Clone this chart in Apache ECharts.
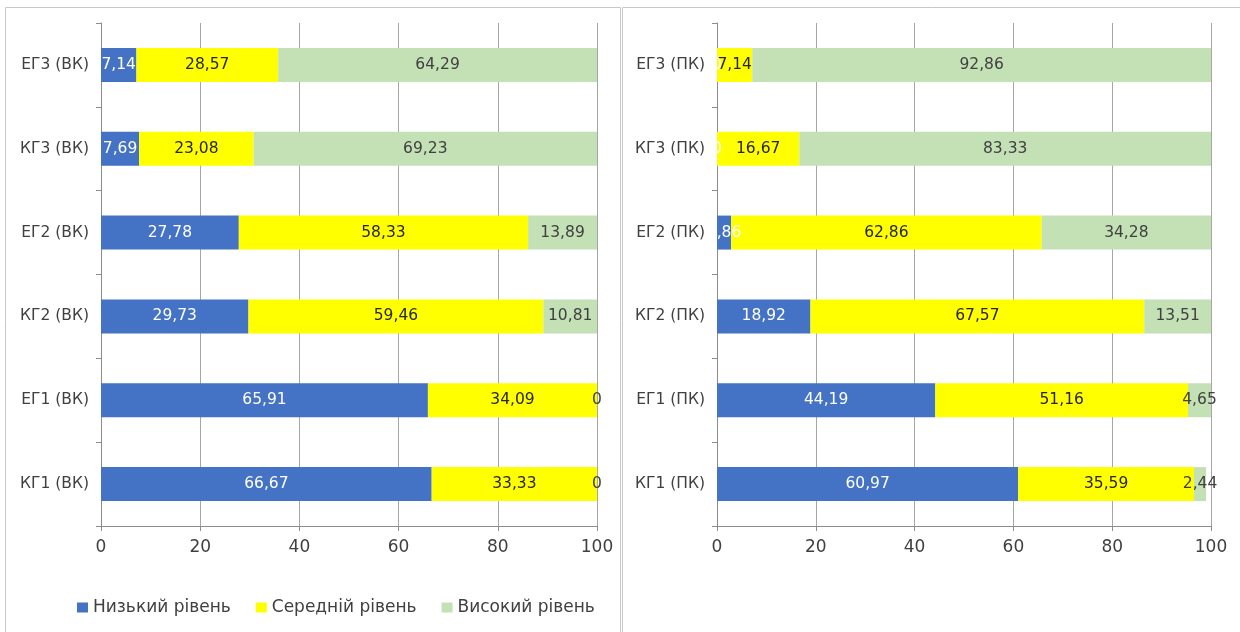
<!DOCTYPE html>
<html>
<head>
<meta charset="utf-8">
<script src="https://cdn.jsdelivr.net/npm/echarts@6/dist/echarts.min.js"></script>
<style>
html,body{margin:0;padding:0;background:#fff;}
#chart{width:1240px;height:632px;}
</style>
</head>
<body>
<div id="chart"></div>
<script>
// Categories, bottom to top
const catsVK = ['КГ1 (ВК)', 'ЕГ1 (ВК)', 'КГ2 (ВК)', 'ЕГ2 (ВК)', 'КГ3 (ВК)', 'ЕГ3 (ВК)'];
const catsPK = ['КГ1 (ПК)', 'ЕГ1 (ПК)', 'КГ2 (ПК)', 'ЕГ2 (ПК)', 'КГ3 (ПК)', 'ЕГ3 (ПК)'];

const seriesNames = ['Низький рівень', 'Середній рівень', 'Високий рівень'];

// ВК
const lowVK  = [66.67, 65.91, 29.73, 27.78, 7.69, 7.14];
const midVK  = [33.33, 34.09, 59.46, 58.33, 23.08, 28.57];
const highVK = [0, 0, 10.81, 13.89, 69.23, 64.29];

// ПК
const lowPK  = [60.97, 44.19, 18.92, 2.86, 0, 0];
const midPK  = [35.59, 51.16, 67.57, 62.86, 16.67, 7.14];
const highPK = [2.44, 4.65, 13.51, 34.28, 83.33, 92.86];

const xTicks = [0, 20, 40, 60, 80, 100];

const colors = ['#4472C4', '#FFFF00', '#C4E0B5'];
const labelColors = ['#ffffff', '#262626', '#404040'];
const fontFam = '"DejaVu Sans", "Open Sans", sans-serif';

function fmt(v) { return String(v).replace('.', ','); }

function xAxis(gi) {
  return {
    type: 'value', gridIndex: gi, min: xTicks[0], max: xTicks[xTicks.length - 1], interval: 20,
    axisLine: { show: true, lineStyle: { color: '#8c8c8c' } },
    axisTick: { show: true, length: 5, lineStyle: { color: '#8c8c8c' } },
    splitLine: { show: true, lineStyle: { color: '#a6a6a6', width: 1 } },
    axisLabel: { color: '#404040', fontSize: 17, fontFamily: fontFam, margin: 13 }
  };
}
function yAxis(gi, cats) {
  return {
    type: 'category', gridIndex: gi, data: cats,
    axisLine: { show: true, lineStyle: { color: '#8c8c8c' } },
    axisTick: { show: true, length: 5, inside: false, lineStyle: { color: '#8c8c8c' } },
    axisLabel: { color: '#404040', fontSize: 15.5, fontFamily: fontFam, margin: 12 }
  };
}
function bars(gi, stack, arrs) {
  return arrs.map((d, i) => ({
    name: seriesNames[i], type: 'bar', stack: stack,
    xAxisIndex: gi, yAxisIndex: gi, data: d, barWidth: 34,
    itemStyle: { color: colors[i] },
    label: {
      show: true, position: 'inside', color: labelColors[i],
      fontSize: 15.5, fontFamily: fontFam,
      formatter: p => fmt(p.value)
    }
  }));
}

const chart = echarts.init(document.getElementById('chart'));
chart.setOption({
  animation: false,
  graphic: [
    { type: 'rect', shape: { x: 5.5, y: 7.5, width: 615, height: 640 }, style: { fill: 'none', stroke: '#c8c8c8', lineWidth: 1 }, silent: true },
    { type: 'rect', shape: { x: 622.5, y: 7.5, width: 640, height: 640 }, style: { fill: 'none', stroke: '#c8c8c8', lineWidth: 1 }, silent: true }
  ],
  legend: {
    data: seriesNames, left: 72, top: 594,
    itemWidth: 11, itemHeight: 10, itemGap: 25, icon: 'rect',
    textStyle: { color: '#404040', fontSize: 17, fontFamily: fontFam }
  },
  grid: [
    { left: 101, right: 643, top: 23, bottom: 106 },
    { left: 717, right: 29, top: 23, bottom: 106 }
  ],
  xAxis: [xAxis(0), xAxis(1)],
  yAxis: [yAxis(0, catsVK), yAxis(1, catsPK)],
  series: [
    ...bars(0, 'vk', [lowVK, midVK, highVK]),
    ...bars(1, 'pk', [lowPK, midPK, highPK])
  ]
});
</script>
</body>
</html>
